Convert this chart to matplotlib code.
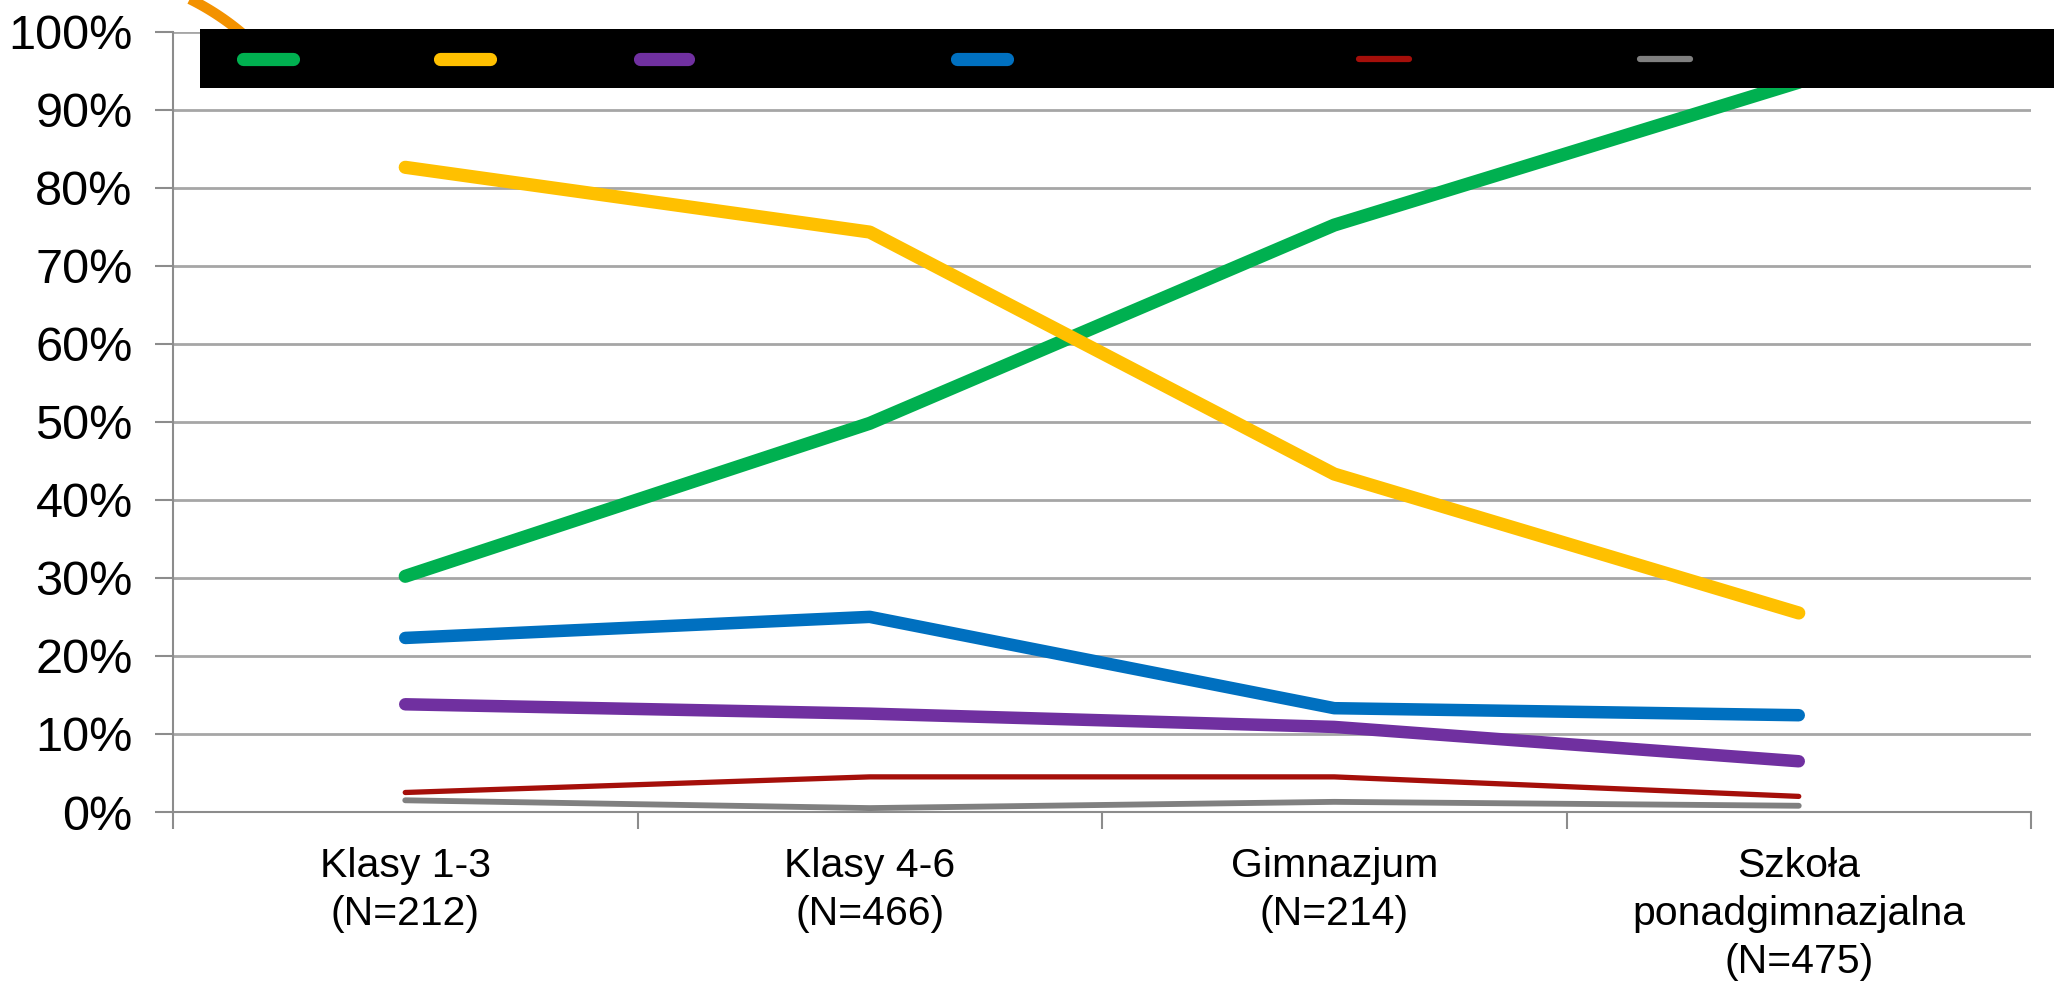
import numpy as np
import matplotlib
matplotlib.use("Agg")
import matplotlib.pyplot as plt
from matplotlib.patches import Rectangle
from matplotlib.lines import Line2D
from matplotlib.transforms import IdentityTransform
from matplotlib.ticker import FixedLocator, PercentFormatter

plt.rcParams['font.family'] = ['Liberation Sans', 'DejaVu Sans']

# dane
categories = ["Klasy 1-3\n(N=212)", "Klasy 4-6\n(N=466)",
              "Gimnazjum\n(N=214)", "Szkoła\nponadgimnazjalna\n(N=475)"]
green = [30.2, 49.8, 75.2, 93.5]
yellow = [82.6, 74.3, 43.3, 25.5]
purple = [13.8, 12.6, 10.9, 6.5]
blue = [22.3, 25.0, 13.3, 12.4]
red = [2.5, 4.5, 4.5, 2.0]
grey = [1.5, 0.5, 1.3, 0.8]

series = [green, yellow, purple, blue, red, grey]
colors = ["#00B050", "#FFC000", "#7030A0", "#0070C0", "#A50F0A", "#808080"]
widths = [9.5, 9.5, 9, 9, 3.8, 4.2]

W, H = 2054, 983
fig = plt.figure(figsize=(W / 100, H / 100), dpi=100)
ax = fig.add_axes([173 / W, 1 - 812 / H, (2031 - 173) / W, (812 - 31.5) / H])

x = range(len(categories))
for vals, c, lw in zip(series, colors, widths):
    ax.plot(x, [v / 100 for v in vals], color=c, lw=lw,
            solid_capstyle='round', solid_joinstyle='round', zorder=3)

ax.set_xlim(-0.5, len(categories) - 0.5)
ax.set_ylim(0, 1)
ax.yaxis.set_major_locator(FixedLocator([i / 10 for i in range(11)]))
ax.yaxis.set_major_formatter(PercentFormatter(1.0, decimals=0))
ax.set_xticks(list(x))
ax.set_xticklabels(categories, fontsize=29.5, linespacing=1.33)
ax.set_xticks([i - 0.5 for i in range(len(categories) + 1)], minor=True)
ax.tick_params(axis='x', which='major', length=0, pad=25)
ax.tick_params(axis='x', which='minor', length=12, width=1.5, color='#8C8C8C')
ax.tick_params(axis='y', length=13, width=1.5, color='#8C8C8C', labelsize=35, pad=16)
ax.grid(axis='y', color='#A6A6A6', lw=2)
ax.set_axisbelow(True)
for s in ['top', 'right']:
    ax.spines[s].set_visible(False)
for s in ['left', 'bottom']:
    ax.spines[s].set_color('#8C8C8C')
    ax.spines[s].set_linewidth(1.5)

# pomaranczowy luk w rogu
t = np.radians(np.linspace(42, 72, 60))
fig.add_artist(Line2D(74.4 + 260 * np.cos(t), 751 + 260 * np.sin(t),
                      color='#F39200', lw=7.5, solid_capstyle='butt',
                      transform=IdentityTransform(), zorder=4))

# czarne pole legendy
box = Rectangle((200, H - 88), W - 200, 59, facecolor='black', edgecolor='none',
                transform=IdentityTransform(), zorder=5)
fig.add_artist(box)
handles_x = [(243, 293), (440, 490), (640, 688), (957, 1007), (1359, 1409), (1640, 1690)]
handle_lw = [9.5, 9.5, 9.5, 9.5, 4.5, 4.5]
for (x0, x1), c, lw in zip(handles_x, colors, handle_lw):
    fig.add_artist(Line2D([x0, x1], [H - 58.5, H - 58.5], color=c, lw=lw,
                          solid_capstyle='round', transform=IdentityTransform(), zorder=6))

fig.savefig("out.png", dpi=100)
